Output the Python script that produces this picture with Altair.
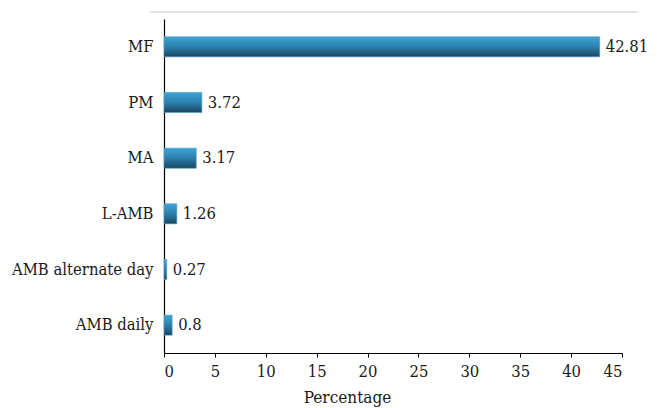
import altair as alt
import pandas as pd

categories = ["MF", "PM", "MA", "L-AMB", "AMB alternate day", "AMB daily"]
values = [42.81, 3.72, 3.17, 1.26, 0.27, 0.8]
labels = ["42.81", "3.72", "3.17", "1.26", "0.27", "0.8"]
x_ticks = [0, 5, 10, 15, 20, 25, 30, 35, 40, 45]

df = pd.DataFrame({"cat": categories, "val": values, "lab": labels})

FONT = "DejaVu Serif Condensed, DejaVu Serif"
FS = 16.5

grad = alt.LinearGradient(
    gradient="linear",
    x1=0, x2=0, y1=0, y2=1,
    stops=[
        alt.GradientStop(color="#3ea4d2", offset=0),
        alt.GradientStop(color="#2b80ad", offset=0.5),
        alt.GradientStop(color="#1c4560", offset=1),
    ],
)

y_enc = alt.Y(
    "cat:N",
    sort=categories,
    scale=alt.Scale(paddingInner=0.64, paddingOuter=0.32),
    axis=alt.Axis(
        title=None,
        ticks=False,
        tickSize=0,
        labelPadding=11,
        labelFont=FONT,
        labelFontSize=FS,
        labelColor="#1a1a1a",
        labelLimit=300,
        domainColor="#000000",
        domainWidth=1.2,
        grid=False,
    ),
)

x_enc = alt.X(
    "val:Q",
    scale=alt.Scale(domain=[0, 45], nice=False),
    axis=alt.Axis(
        title="Percentage",
        values=x_ticks,
        format="d",
        grid=False,
        tickSize=4,
        tickColor="#000000",
        domainColor="#000000",
        domainWidth=1.2,
        labelFont=FONT,
        labelFontSize=FS,
        labelColor="#1a1a1a",
        labelPadding=6,
        titleFont=FONT,
        titleFontSize=17,
        titleFontWeight="normal",
        titleColor="#1a1a1a",
        titleX=183,
        titleY=36,
        titleBaseline="top",
    ),
)

bars = alt.Chart(df).mark_bar(color=grad, size=20, stroke="#4d9ac4", strokeWidth=0.6).encode(
    x=x_enc,
    y=y_enc,
)

text = alt.Chart(df).mark_text(
    align="left", baseline="middle", dx=6, font=FONT, fontSize=FS, color="#1a1a1a"
).encode(
    x="val:Q",
    y=alt.Y("cat:N", sort=categories),
    text="lab:N",
)

top_line = alt.Chart(df).mark_rule(color="#e3e3e3", strokeWidth=1).encode(
    x=alt.value(-14), x2=alt.value(474), y=alt.value(-7)
)

chart = (
    alt.layer(top_line, bars, text)
    .properties(
        width=458,
        height=334,
        autosize=alt.AutoSizeParams(type="none"),
        padding={"left": 156, "top": 11, "right": 29, "bottom": 54},
    )
    .configure_view(stroke=None)
)

chart.save("out.html", embed_options={"renderer": "svg", "actions": False})
